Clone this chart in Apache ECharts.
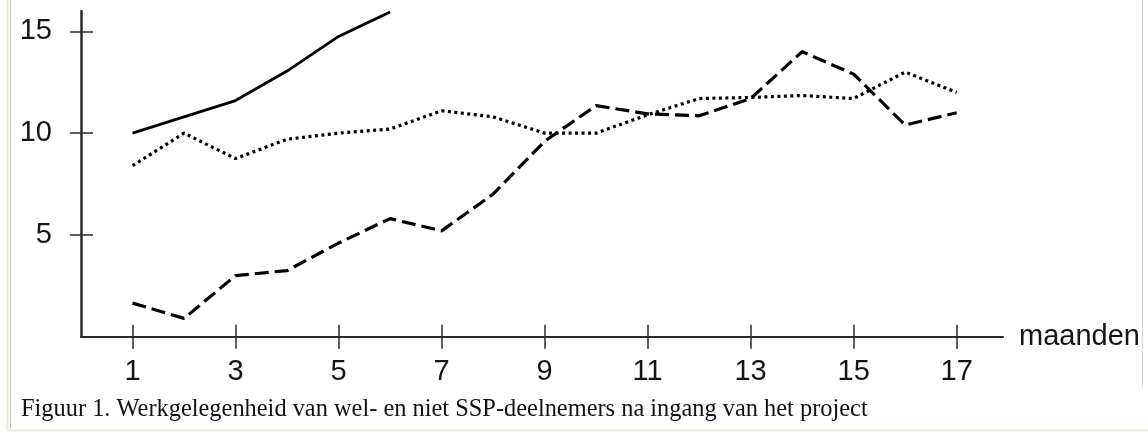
<!DOCTYPE html>
<html>
<head>
<meta charset="utf-8">
<script src="https://cdn.jsdelivr.net/npm/echarts@6/dist/echarts.min.js"></script>
<style>
html,body{margin:0;padding:0;background:#fff;}
#c{width:1148px;height:434px;}
</style>
</head>
<body>
<div id="c"></div>
<script>
var months = [1,2,3,4,5,6,7,8,9,10,11,12,13,14,15,16,17];
var solidSeries = [10.0, 10.8, 11.6, 13.05, 14.75, 15.95];
var dottedSeries = [8.4, 10.0, 8.75, 9.7, 10.0, 10.2, 11.1, 10.8, 10.0, 10.0, 10.9, 11.7, 11.75, 11.85, 11.7, 13.0, 12.0];
var dashedSeries = [1.65, 0.9, 3.0, 3.25, 4.6, 5.8, 5.2, 7.0, 9.6, 11.35, 10.95, 10.85, 11.7, 14.0, 12.9, 10.4, 11.0];
var xTickLabels = [1,3,5,7,9,11,13,15,17];
var yTickLabels = [5,10,15];
var xName = 'maanden';
var caption = 'Figuur 1. Werkgelegenheid van wel- en niet SSP-deelnemers na ingang van het project';

function pairs(vals){ return vals.map(function(v,i){ return [months[i], v]; }); }

var axisColor = '#2a2a2a';
var labelFont = { fontFamily: "'Liberation Sans', Arial, sans-serif", fontSize: 29, color: '#151515' };

var chart = echarts.init(document.getElementById('c'), null, {renderer:'canvas'});
chart.setOption({
  animation: false,
  backgroundColor: '#fff',
  grid: { left: 81, right: 145, top: 11, bottom: 97.3, containLabel: false },
  xAxis: [
    { type: 'value', min: 0, max: 17.9, position: 'bottom',
      axisLine: { show: true, lineStyle: { color: axisColor, width: 2 } },
      axisTick: { show: true, length: 12, customValues: xTickLabels, lineStyle: { color: axisColor, width: 1.5 } },
      axisLabel: Object.assign({ show: true, margin: 21, customValues: xTickLabels }, labelFont),
      splitLine: { show: false },
      name: xName, nameLocation: 'end', nameGap: 16,
      nameTextStyle: Object.assign({ verticalAlign: 'middle', align: 'left' }, labelFont)
    },
    { type: 'value', min: 0, max: 17.9, position: 'bottom', offset: 0,
      axisLine: { show: false },
      axisTick: { show: true, inside: true, length: 12, customValues: xTickLabels, lineStyle: { color: axisColor, width: 1.5 } },
      axisLabel: { show: false }, splitLine: { show: false }
    }
  ],
  yAxis: [
    { type: 'value', min: 0, max: 16, position: 'left',
      axisLine: { show: true, lineStyle: { color: axisColor, width: 2.5 } },
      axisTick: { show: true, length: 11, customValues: yTickLabels, lineStyle: { color: axisColor, width: 1.5 } },
      axisLabel: Object.assign({ show: true, margin: 29, customValues: yTickLabels }, labelFont),
      splitLine: { show: false }
    },
    { type: 'value', min: 0, max: 16, position: 'left', offset: 0,
      axisLine: { show: false },
      axisTick: { show: true, inside: true, length: 12, customValues: yTickLabels, lineStyle: { color: axisColor, width: 1.5 } },
      axisLabel: { show: false }, splitLine: { show: false }
    }
  ],
  series: [
    { type: 'line', data: pairs(solidSeries), symbol: 'none', clip: true,
      lineStyle: { color: '#000', width: 2.8, type: 'solid' } },
    { type: 'line', data: pairs(dottedSeries), symbol: 'none', clip: true,
      lineStyle: { color: '#000', width: 3.2, type: [3, 3.5], cap: 'butt' } },
    { type: 'line', data: pairs(dashedSeries), symbol: 'none', clip: true,
      lineStyle: { color: '#000', width: 3.2, type: [14, 6], cap: 'butt' } }
  ],
  graphic: [
    { type: 'line', shape: { x1: 7.5, y1: 0, x2: 7.5, y2: 431 }, style: { stroke: '#ece9dc', lineWidth: 2 }, silent: true },
    { type: 'line', shape: { x1: 10.5, y1: 0, x2: 10.5, y2: 429 }, style: { stroke: '#c8c6c0', lineWidth: 1 }, silent: true },
    { type: 'line', shape: { x1: 8, y1: 430.5, x2: 1148, y2: 430.5 }, style: { stroke: '#ece9dc', lineWidth: 2 }, silent: true },
    { type: 'line', shape: { x1: 1142.5, y1: 0, x2: 1142.5, y2: 387 }, style: { stroke: '#d8d8d8', lineWidth: 1 }, silent: true },
    { type: 'text', left: 21, top: 398,
      style: { text: caption, fill: '#111', font: "24.4px 'Liberation Serif', 'Times New Roman', serif" }, silent: true }
  ]
});
</script>
</body>
</html>
